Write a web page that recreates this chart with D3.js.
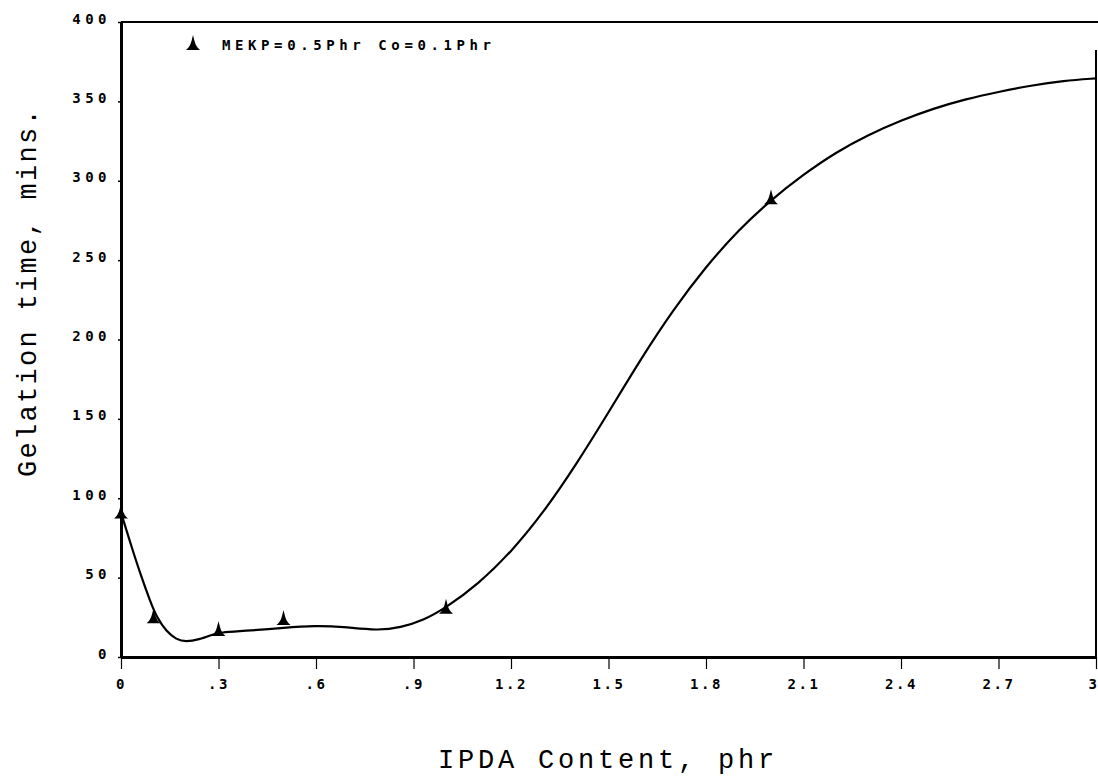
<!DOCTYPE html>
<html>
<head>
<meta charset="utf-8">
<script src="https://cdn.jsdelivr.net/npm/d3@7"></script>
<style>
  html, body { margin: 0; padding: 0; background: #fff; }
  svg { display: block; }
</style>
</head>
<body>
<svg id="chart" width="1098" height="776"></svg>
<script>
// IPDA content (phr) of the measured samples and their gelation times (min)
const sampleX = [0, 0.1, 0.3, 0.5, 1.0, 2.0];
const sampleY = [91, 25, 17, 24, 31, 289];

// Smoothed fit curve through the measurements
const fitX = [0, 0.03, 0.06, 0.09, 0.11, 0.14, 0.17, 0.2, 0.24, 0.28, 0.3, 0.4, 0.5, 0.6, 0.68, 0.79, 0.86, 0.93, 1.0,
              1.1, 1.2, 1.3, 1.4, 1.5, 1.6, 1.7, 1.8, 1.9, 2.0, 2.1, 2.2, 2.3, 2.4, 2.5, 2.6, 2.7, 2.8, 2.9, 3.0];
const fitY = [91, 71, 52, 35, 25, 16, 11, 9.5, 11, 14, 15.5, 16.6, 18.5, 19.7, 19.1, 16.6, 18.5, 23, 31,
              46, 66, 91, 121, 154, 188, 219, 246, 269, 288, 304, 318, 329, 338, 345.5, 351.5, 356, 360, 363, 364.5];

// Axis ticks and labels
const xTicks = [0, 0.3, 0.6, 0.9, 1.2, 1.5, 1.8, 2.1, 2.4, 2.7, 3];
const xTickLabels = ["0", ".3", ".6", ".9", "1.2", "1.5", "1.8", "2.1", "2.4", "2.7", "3"];
const yTicks = [0, 50, 100, 150, 200, 250, 300, 350, 400];
const yTickLabels = ["0", "50", "100", "150", "200", "250", "300", "350", "400"];

const legendLabel = "MEKP=0.5Phr Co=0.1Phr";
const xTitle = "IPDA Content, phr";
const yTitle = "Gelation time, mins.";

const svg = d3.select("#chart");
const x = d3.scaleLinear().domain([0, 3]).range([121, 1096]);
const y = d3.scaleLinear().domain([0, 400]).range([657, 22]);

const tickFont = "'DejaVu Sans Mono', monospace";
const titleFont = "'Courier New', 'Liberation Mono', monospace";

// Frame: top border across the full width, right border starting a little below it
svg.append("line")
  .attr("x1", x(0)).attr("x2", 1098)
  .attr("y1", y(400)).attr("y2", y(400))
  .attr("stroke", "#000").attr("stroke-width", 2);
svg.append("line")
  .attr("x1", x(3)).attr("x2", x(3))
  .attr("y1", y(400) + 28).attr("y2", y(0))
  .attr("stroke", "#000").attr("stroke-width", 2);

// Bottom axis
const xAxis = svg.append("g").attr("transform", `translate(0,${y(0)})`)
  .call(d3.axisBottom(x).tickValues(xTicks).tickSize(12).tickSizeOuter(0)
        .tickFormat((d, i) => xTickLabels[i]));
xAxis.select(".domain").attr("stroke-width", 3);
xAxis.selectAll(".tick line").attr("stroke-width", 1.2);
xAxis.selectAll(".tick text")
  .attr("font-family", tickFont).attr("font-size", 14).attr("font-weight", "bold")
  .attr("letter-spacing", 2.5).attr("fill", "#000")
  .attr("y", 0).attr("dy", 32)
  .filter((d, i) => i === xTicks.length - 1)
  .attr("text-anchor", "end").attr("x", 3);

// Left axis
const yAxis = svg.append("g").attr("transform", `translate(${x(0)},0)`)
  .call(d3.axisLeft(y).tickValues(yTicks).tickSize(3).tickSizeOuter(0)
        .tickFormat((d, i) => yTickLabels[i]));
yAxis.select(".domain").attr("stroke-width", 3);
yAxis.selectAll(".tick line").attr("stroke-width", 1.5);
yAxis.selectAll(".tick text")
  .attr("font-family", tickFont).attr("font-size", 14).attr("font-weight", "bold")
  .attr("letter-spacing", 4.5).attr("fill", "#000")
  .attr("x", -10).attr("dy", 1);

// Fit curve
const line = d3.line()
  .x((d, i) => x(fitX[i]))
  .y((d, i) => y(fitY[i]))
  .curve(d3.curveBasis);
svg.append("path")
  .datum(fitY)
  .attr("d", line)
  .attr("fill", "none")
  .attr("stroke", "#000")
  .attr("stroke-width", 2.2);

// Flared arrowhead marker used for the samples
const markerPath = "M0,-9 L1.5,-3 Q3,3 7,6 L-7,6 Q-3,3 -1.5,-3 Z";
svg.append("g").selectAll("path")
  .data(sampleY)
  .join("path")
  .attr("d", markerPath)
  .attr("transform", (d, i) => `translate(${x(sampleX[i])},${y(d)})`)
  .attr("fill", "#000");

// Legend
svg.append("path")
  .attr("d", markerPath)
  .attr("transform", "translate(193,44)")
  .attr("fill", "#000");
svg.append("text")
  .attr("x", 222).attr("y", 50)
  .attr("font-family", tickFont).attr("font-size", 14).attr("font-weight", "bold")
  .attr("letter-spacing", 4.6)
  .text(legendLabel);

// Axis titles
svg.append("text")
  .attr("x", 608).attr("y", 768)
  .attr("text-anchor", "middle")
  .attr("font-family", titleFont).attr("font-size", 27)
  .attr("letter-spacing", 3.8)
  .text(xTitle);
svg.append("text")
  .attr("transform", "translate(36,292) rotate(-90)")
  .attr("text-anchor", "middle")
  .attr("font-family", titleFont).attr("font-size", 27)
  .attr("letter-spacing", 2.3)
  .text(yTitle);
</script>
</body>
</html>
